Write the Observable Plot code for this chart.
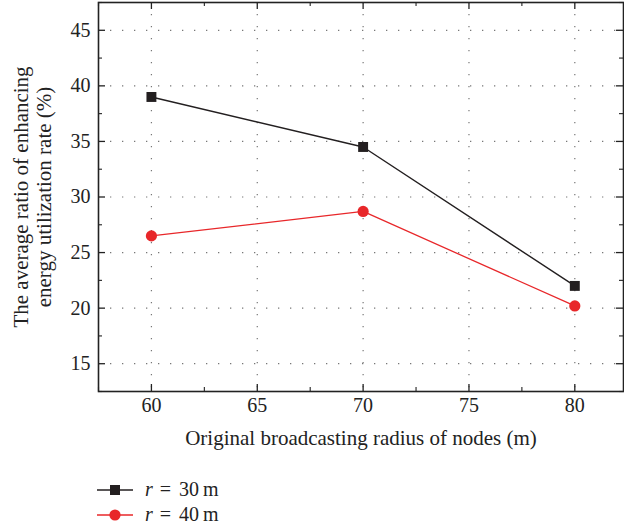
<!DOCTYPE html>
<html>
<head>
<meta charset="utf-8">
<script src="https://cdn.jsdelivr.net/npm/d3@7"></script>
<script src="https://cdn.jsdelivr.net/npm/@observablehq/plot@0.6"></script>
<style>
  html, body { margin: 0; padding: 0; background: #fff; overflow: hidden; }
  #chart { width: 624px; }
  .legend { font-family: "Liberation Serif", serif; font-size: 20px; color: #222; margin: 0; }
  .legend .row { display: flex; align-items: center; height: 25px; }
  .legend svg { margin-left: 97px; margin-right: 12px; }
  .legend .eq { margin: 0 8px 0 7px; }
  .legend .unit { margin-left: 4px; }
</style>
</head>
<body>
<div id="chart"></div>
<script>
// ---- data ----
const radius = [60, 70, 80];
const r30 = [39.0, 34.5, 22.0];
const r40 = [26.5, 28.7, 20.2];
const seriesNames = ["30", "40"];
const seriesColors = ["#231f20", "#e8272a"];
const xTicks = [60, 65, 70, 75, 80];
const xMinor = [57.5, 62.5, 67.5, 72.5, 77.5, 82.5];
const yTicks = [15, 20, 25, 30, 35, 40, 45];
const yMinor = [12.5, 17.5, 22.5, 27.5, 32.5, 37.5, 42.5, 47.5];
const xLabel = "Original broadcasting radius of nodes (m)";
const yLabel = "The average ratio of enhancing\nenergy utilization rate (%)";

const d30 = radius.map((x, i) => ({x, y: r30[i]}));
const d40 = radius.map((x, i) => ({x, y: r40[i]}));

const W = 624, H = 460;
const mL = 98, mR = 1, mT = 2, mB = 69;
const fw = W - mL - mR, fh = H - mT - mB;
const font = "Liberation Serif";
const major = 7, minor = 4;

const chart = Plot.plot({
  width: W, height: H,
  marginLeft: mL, marginRight: mR, marginTop: mT, marginBottom: mB,
  style: {fontFamily: font, fontSize: "20px", color: "#222", background: "#fff"},
  x: {domain: [57.5, 82.3]},
  y: {domain: [12.5, 47.5]},
  marks: [
    // dotted grid
    Plot.gridX(xTicks, {stroke: "#777", strokeOpacity: 1, strokeWidth: 1.2, strokeDasharray: "1.3,10.7"}),
    Plot.gridY(yTicks, {stroke: "#777", strokeOpacity: 1, strokeWidth: 1.2, strokeDasharray: "1.3,10.7"}),
    // tick labels
    Plot.axisX(xTicks, {tickSize: 0, tickPadding: 6, label: null, fontSize: 20, fill: "#222"}),
    Plot.axisY(yTicks, {tickSize: 0, tickPadding: 8, label: null, fontSize: 20, fill: "#222"}),
    // inward ticks bottom/top
    Plot.tickX(xTicks, {x: d => d, insetTop: fh - major, stroke: "#222", strokeWidth: 1.3}),
    Plot.tickX(xTicks, {x: d => d, insetBottom: fh - major, stroke: "#222", strokeWidth: 1.3}),
    Plot.tickX(xMinor, {x: d => d, insetTop: fh - minor, stroke: "#222", strokeWidth: 1.1}),
    Plot.tickX(xMinor, {x: d => d, insetBottom: fh - minor, stroke: "#222", strokeWidth: 1.1}),
    // inward ticks left/right
    Plot.tickY(yTicks, {y: d => d, insetRight: fw - major, stroke: "#222", strokeWidth: 1.3}),
    Plot.tickY(yTicks, {y: d => d, insetLeft: fw - major, stroke: "#222", strokeWidth: 1.3}),
    Plot.tickY(yMinor, {y: d => d, insetRight: fw - minor, stroke: "#222", strokeWidth: 1.1}),
    Plot.tickY(yMinor, {y: d => d, insetLeft: fw - minor, stroke: "#222", strokeWidth: 1.1}),
    // frame
    Plot.frame({stroke: "#222", strokeWidth: 1.6}),
    // series
    Plot.line(d30, {x: "x", y: "y", stroke: seriesColors[0], strokeWidth: 1.4}),
    Plot.line(d40, {x: "x", y: "y", stroke: seriesColors[1], strokeWidth: 1.3}),
    Plot.dot(d30, {x: "x", y: "y", symbol: "square", r: 5.6, fill: seriesColors[0], stroke: "none"}),
    Plot.dot(d40, {x: "x", y: "y", symbol: "circle", r: 5.6, fill: seriesColors[1], stroke: "none"}),
    // axis titles
    Plot.text([xLabel], {text: d => d, frameAnchor: "bottom", textAnchor: "middle", dy: 47, lineAnchor: "middle", fontSize: 21, fill: "#222"}),
    Plot.text([yLabel], {text: d => d, frameAnchor: "left", textAnchor: "middle", dx: -66, rotate: -90, lineAnchor: "middle", lineHeight: 1.1, fontSize: 21, fill: "#222"})
  ]
});
document.getElementById("chart").appendChild(chart);

// legend below
const legend = document.createElement("div");
legend.className = "legend";
legend.style.marginTop = "17px";
seriesNames.forEach((name, i) => {
  const row = document.createElement("div");
  row.className = "row";
  const sym = i === 0
    ? `<rect x="13" y="7" width="10" height="10" fill="${seriesColors[i]}"/>`
    : `<circle cx="18" cy="12" r="5.6" fill="${seriesColors[i]}"/>`;
  row.innerHTML = `<svg width="36" height="24"><line x1="0" x2="36" y1="12" y2="12" stroke="${seriesColors[i]}" stroke-width="1.4"/>${sym}</svg>` +
    `<span><i>r</i><span class="eq">=</span>${name}<span class="unit">m</span></span>`;
  legend.appendChild(row);
});
document.body.appendChild(legend);
</script>
</body>
</html>
